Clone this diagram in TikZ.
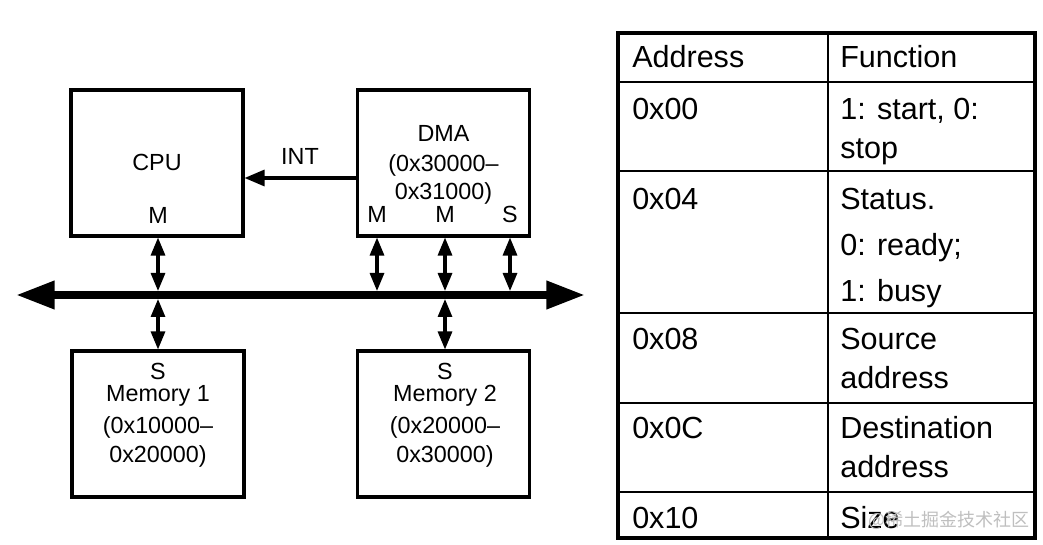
\documentclass[tikz,border=0pt]{standalone}
\usepackage{fontspec}
\setmainfont{Liberation Sans}
\newfontfamily\cjkfont{Noto Sans CJK SC}
\usetikzlibrary{arrows.meta,calc}
\begin{document}
\begin{tikzpicture}[x=0.75pt,y=-0.75pt,
  blk/.style={draw,line width=2.3pt,minimum width=129pt,minimum height=109.5pt,inner sep=0pt},
  lbl/.style={font=\fontsize{17.5}{21}\selectfont,anchor=base,inner sep=0pt},
  tlbl/.style={font=\fontsize{22.9}{27}\selectfont,anchor=base west,inner sep=0pt},
  dbl/.style={line width=2.3pt,{Triangle[length=13.5pt,width=10.5pt]}-{Triangle[length=13.5pt,width=10.5pt]}},
  bus/.style={line width=6pt,{Triangle[length=29pt,width=20pt]}-{Triangle[length=29pt,width=20pt]}},
  intarrow/.style={line width=2.3pt,-{Triangle[length=15pt,width=12pt]}},
  outer/.style={line width=3pt},
  inner/.style={line width=1.5pt}]
\useasboundingbox (0,0) rectangle (1043,545);
\fill[white] (0,0) rectangle (1043,545);

% blocks
\node[blk] (cpu) at (157,163) {};
\node[blk] (dma) at (443.5,163) {};
\node[blk] (mem1) at (158,424) {};
\node[blk] (mem2) at (443.5,424) {};

% bus
\coordinate (busL) at (16,295);
\coordinate (busR) at (585,295);
\coordinate (busT) at (300,291);
\coordinate (busB) at (300,299);
\draw[bus] (busL) -- (busR);

% labels
\node[lbl] (cpuT) at (157,171) {CPU};
\node[lbl] (cpuM) at (158,224) {M};
\node[lbl] (intT) at (300,165) {INT};
\node[lbl] (dmaT1) at (443.5,142) {DMA};
\node[lbl] (dmaT2) at (443.5,172) {(0x30000–};
\node[lbl] (dmaT3) at (443.5,200) {0x31000)};
\node[lbl] (dmaM1) at (377,223) {M};
\node[lbl] (dmaM2) at (445,223) {M};
\node[lbl] (dmaS) at (510,223) {S};
\node[lbl] (m1S) at (158,380) {S};
\node[lbl] (m1T1) at (158,402) {Memory 1};
\node[lbl] (m1T2) at (158,433) {(0x10000–};
\node[lbl] (m1T3) at (158,462) {0x20000)};
\node[lbl] (m2S) at (445,380) {S};
\node[lbl] (m2T1) at (445,402) {Memory 2};
\node[lbl] (m2T2) at (445,433) {(0x20000–};
\node[lbl] (m2T3) at (445,462) {0x30000)};

% connectors
\draw[intarrow] ([yshift=-11.25pt]dma.west) -- ([yshift=-11.25pt]cpu.east);
\draw[dbl] (cpuM |- cpu.south) -- (cpuM |- busT);
\draw[dbl] (cpuM |- busB) -- (cpuM |- mem1.north);
\draw[dbl] (dmaM1 |- dma.south) -- (dmaM1 |- busT);
\draw[dbl] (dmaM2 |- dma.south) -- (dmaM2 |- busT);
\draw[dbl] (dmaS |- dma.south) -- (dmaS |- busT);
\draw[dbl] (dmaM2 |- busB) -- (dmaM2 |- mem2.north);

% table
\draw[inner] (828,33) -- (828,538);
\draw[inner] (618,82) -- (1035,82);
\draw[inner] (618,171) -- (1035,171);
\draw[inner] (618,313) -- (1035,313);
\draw[inner] (618,403) -- (1035,403);
\draw[inner] (618,492) -- (1035,492);
\draw[outer] (618,33) rectangle (1035,538);

\node[tlbl] (h1) at (632,68) {Address};
\node[tlbl] (h2) at (840,68) {Function};
\node[tlbl] (a1) at (632,120) {0x00};
\node[tlbl] (f1a) at (840,120) {1: start, 0:};
\node[tlbl] (f1b) at (840,159) {stop};
\node[tlbl] (a2) at (632,210) {0x04};
\node[tlbl] (f2a) at (840,210) {Status.};
\node[tlbl] (f2b) at (840,256) {0: ready;};
\node[tlbl] (f2c) at (840,302) {1: busy};
\node[tlbl] (a3) at (632,350) {0x08};
\node[tlbl] (f3a) at (840,350) {Source};
\node[tlbl] (f3b) at (840,388) {address};
\node[tlbl] (a4) at (632,438) {0x0C};
\node[tlbl] (f4a) at (840,438) {Destination};
\node[tlbl] (f4b) at (840,477) {address};
\node[tlbl] (a5) at (632,528) {0x10};
\node[tlbl] (f5) at (840,528) {Size};
\node[anchor=base west,inner sep=0pt,text=gray!50,font=\cjkfont\fontsize{13.5}{16}\selectfont] (wm) at (868,526) {@稀土掘金技术社区};
\end{tikzpicture}
\end{document}
